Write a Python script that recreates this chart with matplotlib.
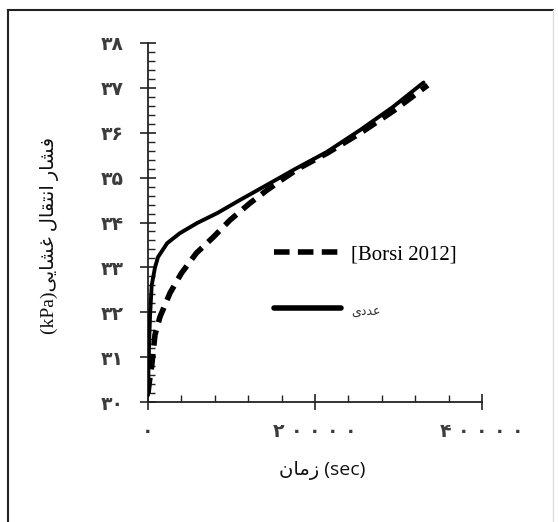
import matplotlib
matplotlib.use("Agg")
import matplotlib.pyplot as plt
from matplotlib.lines import Line2D
from matplotlib.ticker import MultipleLocator, FixedLocator, FixedFormatter

# Simulation (numerical) results: time [s] vs transmembrane pressure [kPa]
numeric_t = [0, 60, 150, 240, 440, 840, 1200, 2300, 3800, 5900, 8300, 11000,
             13500, 15800, 17400, 21400, 25400, 29300, 33000]
numeric_p = [30.15, 30.8, 31.4, 31.9, 32.6, 33.0, 33.23, 33.54, 33.76, 33.99,
             34.21, 34.5, 34.76, 35.0, 35.17, 35.57, 36.06, 36.57, 37.12]

# Reference data [Borsi 2012]
borsi_t = [0, 200, 440, 840, 1440, 2640, 4000, 5800, 7800, 9800, 12200,
           14250, 16000, 18000, 21500, 25500, 29500, 33500]
borsi_p = [30.2, 30.5, 30.8, 31.5, 31.9, 32.43, 32.87, 33.32, 33.67, 34.05,
           34.43, 34.72, 34.95, 35.2, 35.55, 36.0, 36.5, 37.06]

y_ticks = [30, 31, 32, 33, 34, 35, 36, 37, 38]
y_tick_labels = ["۳۰", "۳۱", "۳۲", "۳۳", "۳۴", "۳۵", "۳۶", "۳۷", "۳۸"]
x_ticks = [0, 20000, 40000]
x_tick_labels = ["۰", "۲ ۰ ۰ ۰ ۰", "۴ ۰ ۰ ۰ ۰"]

# Persian strings written in visual (left-to-right) order with contextual forms
label_borsi = "[Borsi 2012]"
label_numeric = "\uFEEF\uFEA9\uFEAA\uFECB"                       # عددی
x_title = "\uFEE5\uFE8E\uFEE3\uFEAF (sec)"                        # زمان (sec)
y_title = ("(kPa)" + "\uFEF0\uFEF3\uFE8E\uFEB8\uFECF" + " "       # غشایی
           + "\uFEDD\uFE8E\uFED8\uFE98\uFEE7\uFE8D" + " "         # انتقال
           + "\uFEAD\uFE8E\uFEB8\uFED3")                          # فشار

W, H = 558, 522
fig = plt.figure(figsize=(W / 100, H / 100), dpi=100)
fig.patch.set_facecolor("white")

left, right, top, bottom = 148, 482, 43, 402
ax = fig.add_axes([left / W, 1 - bottom / H, (right - left) / W, (bottom - top) / H])
ax.set_xlim(0, 40000)
ax.set_ylim(30, 38)

ax.plot(borsi_t, borsi_p, color="black", lw=4.0, linestyle=(0, (2.8, 1.5)),
        dash_capstyle="butt", label=label_borsi, zorder=3)
ax.plot(numeric_t, numeric_p, color="black", lw=2.8, solid_capstyle="round",
        label=label_numeric, zorder=4)

for side in ("top", "right"):
    ax.spines[side].set_visible(False)
for side in ("left", "bottom"):
    ax.spines[side].set_color("#222222")
    ax.spines[side].set_linewidth(1.3)

ax.yaxis.set_major_locator(FixedLocator(y_ticks))
ax.yaxis.set_major_formatter(FixedFormatter(y_tick_labels))
ax.yaxis.set_minor_locator(MultipleLocator(0.2))
ax.xaxis.set_major_locator(FixedLocator(x_ticks))
ax.xaxis.set_major_formatter(FixedFormatter(x_tick_labels))
ax.xaxis.set_minor_locator(MultipleLocator(4000))

ax.tick_params(axis="both", which="major", direction="inout", length=11,
               width=1.2, color="#222222", labelcolor="#3c3c3c",
               labelsize=13.5)
ax.tick_params(axis="both", which="minor", direction="in", length=5,
               width=1.0, color="#222222")
ax.tick_params(axis="y", which="major", pad=12)
ax.tick_params(axis="x", which="major", pad=9)
for t in ax.get_yticklabels() + ax.get_xticklabels():
    t.set_fontfamily("DejaVu Sans")
    t.set_fontweight("bold")

leg = ax.legend(loc="upper left", bbox_to_anchor=(0.322, 0.49), frameon=False,
                handlelength=3.2, handletextpad=0.5, labelspacing=1.75,
                fontsize=15)
leg.get_texts()[0].set_fontfamily(["Liberation Serif", "DejaVu Sans"])
leg.get_texts()[1].set_fontfamily("DejaVu Sans")
leg.get_texts()[1].set_fontsize(9)
leg.get_texts()[1].set_color("#333333")
for h in leg.get_lines():
    h.set_linewidth(4)

fig.text(322 / W, 1 - 470 / H, x_title, ha="center", va="center",
         fontsize=14, family=["Open Sans", "DejaVu Sans"], color="#111111")
fig.text(50 / W, 1 - 236 / H, y_title, ha="center", va="center",
         rotation=90, fontsize=14, family=["Liberation Serif", "DejaVu Sans"],
         color="#111111")

# Outer frame
fig.add_artist(Line2D([8 / W, 8 / W], [1 - 10 / H, 0], color="#222222", lw=1.5))
fig.add_artist(Line2D([8 / W, 553 / W], [1 - 10 / H, 1 - 10 / H], color="#222222", lw=1.5))
fig.add_artist(Line2D([553 / W, 553 / W], [1 - 10 / H, 0], color="#dddddd", lw=1.0))

fig.savefig("out.png", dpi=100, facecolor="white")
